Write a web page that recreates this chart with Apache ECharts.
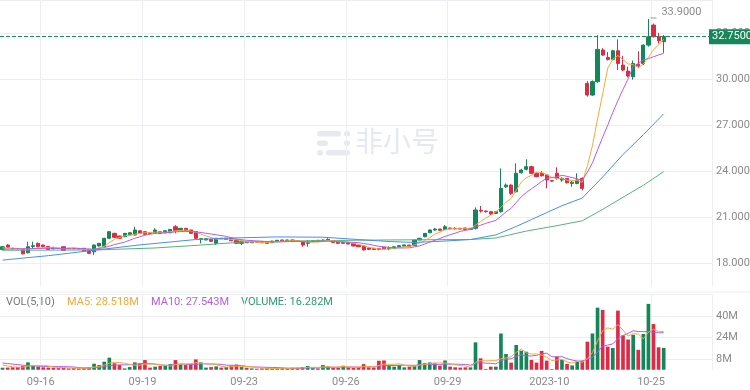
<!DOCTYPE html>
<html><head><meta charset="utf-8">
<script src="https://cdn.jsdelivr.net/npm/echarts@6/dist/echarts.min.js"></script>
<style>html,body{margin:0;padding:0;background:#fff;}#c{width:750px;height:390px;}</style>
</head><body><div id="c"></div>
<script>
// ---- data ----
const tickLabels = ['09-16','09-19','09-23','09-26','09-29','2023-10','10-25'];
const tickIndex = [8,28,48,68,88,108,128];
const priceTicks = [18,21,24,27,30,33];
const volTicks = [8,24,40];
const slotCount = 140;

const open = [18.9,19.19,18.98,18.97,18.9,18.69,19.1,19.3,19.19,19.1,
19.04,18.98,19.08,18.98,18.97,18.96,18.98,18.91,18.75,19.13,
19.08,19.63,19.95,19.78,19.73,19.84,19.84,20.12,20.06,19.99,
19.95,20.06,19.99,19.99,20.38,20.12,20.28,20.17,20.06,19.56,
19.52,19.56,19.3,19.63,19.55,19.63,19.52,19.3,19.41,19.34,
19.41,19.41,19.41,19.34,19.45,19.52,19.47,19.52,19.47,19.41,
19.3,19.41,19.5,19.45,19.5,19.47,19.38,19.3,19.36,19.3,
19.19,19.13,19.0,18.98,18.95,19.05,18.95,18.98,19.08,19.12,
19.19,19.15,19.52,19.73,19.99,20.17,20.23,20.2,20.3,20.28,
20.28,20.3,20.2,20.28,21.45,21.4,21.36,21.25,21.36,22.98,
23.09,22.66,23.89,24.12,24.29,23.86,23.86,23.75,23.38,23.86,
23.42,23.53,23.2,23.2,23.53,29.71,28.95,29.82,31.88,31.4,
31.27,31.83,30.9,30.51,30.14,30.95,31.01,32.2,33.5,32.74,
32.42];
const close = [19.08,19.05,18.95,18.95,18.62,19.08,19.15,19.08,19.1,18.9,
18.95,18.97,18.83,18.96,18.95,18.94,18.8,18.65,19.19,19.3,
19.63,20.06,19.69,19.63,19.95,19.99,20.17,19.95,19.89,19.95,
20.17,19.95,20.12,20.21,20.12,20.28,20.12,19.95,19.63,19.6,
19.6,19.43,19.63,19.6,19.63,19.47,19.3,19.41,19.34,19.41,
19.4,19.34,19.3,19.45,19.5,19.47,19.52,19.45,19.43,19.19,
19.36,19.47,19.45,19.52,19.56,19.36,19.3,19.36,19.26,19.13,
19.08,18.87,18.91,18.9,18.9,18.95,19.0,19.08,19.15,19.2,
19.1,19.52,19.63,19.95,20.17,20.23,20.15,20.38,20.25,20.25,
20.23,20.2,20.28,21.47,21.4,21.36,21.21,21.36,22.88,23.09,
22.55,23.86,24.07,24.29,23.86,23.64,23.7,23.42,23.35,23.53,
23.53,23.24,23.28,23.42,22.88,28.95,29.82,31.92,31.55,31.27,
31.83,31.01,30.58,30.19,31.01,30.85,32.2,32.74,32.74,32.48,
32.75];
const low = [18.85,19.0,18.92,18.9,18.58,18.65,18.98,19.05,19.05,18.86,
18.92,18.94,18.8,18.93,18.92,18.9,18.76,18.6,18.54,19.1,
19.05,19.6,19.66,19.6,19.7,19.82,19.82,19.92,19.86,19.92,
19.93,19.92,19.97,19.97,19.95,20.1,20.1,19.92,19.6,19.3,
19.5,19.41,19.19,19.58,19.53,19.45,19.28,19.19,19.32,19.32,
19.38,19.32,19.28,19.32,19.43,19.45,19.45,19.43,19.41,19.08,
19.08,19.39,19.43,19.43,19.48,19.34,19.28,19.28,19.24,19.11,
19.06,18.85,18.88,18.87,18.85,18.92,18.85,18.96,19.06,19.1,
19.08,19.13,19.5,19.7,19.97,20.1,20.13,20.18,20.23,20.2,
20.21,20.18,20.18,20.2,21.3,21.3,21.15,21.2,21.3,22.9,
22.45,22.6,23.85,24.05,23.8,23.6,23.65,22.88,23.3,23.45,
23.3,23.2,22.98,23.15,22.75,28.85,28.9,29.75,31.5,31.2,
31.2,30.58,30.5,30.1,29.95,30.7,30.9,32.1,32.7,32.3,
31.7];
const high = [19.12,19.25,19.02,19.0,18.95,19.41,19.41,19.35,19.22,19.12,
19.06,19.0,19.1,19.0,19.0,18.99,19.0,18.94,19.22,19.33,
19.66,20.1,19.99,19.8,19.97,20.02,20.38,20.14,20.08,20.01,
20.28,20.08,20.14,20.23,20.49,20.3,20.3,20.19,20.08,19.63,
19.62,19.58,19.65,19.65,19.65,19.65,19.54,19.43,19.43,19.43,
19.43,19.43,19.43,19.47,19.52,19.54,19.54,19.54,19.49,19.43,
19.52,19.49,19.52,19.54,19.63,19.49,19.4,19.38,19.38,19.32,
19.21,19.15,19.02,19.0,19.0,19.07,19.1,19.1,19.17,19.22,
19.21,19.54,19.65,19.97,20.19,20.3,20.25,20.49,20.32,20.35,
20.3,20.32,20.3,21.64,21.73,21.45,21.4,21.4,24.18,23.2,
23.15,24.51,24.15,24.77,24.35,23.9,24.0,23.8,23.4,24.25,
23.6,23.55,23.35,23.86,23.6,29.85,29.9,32.85,32.0,31.75,
31.9,32.57,31.5,30.8,31.2,31.8,32.25,33.9,33.6,33.0,
32.85];
// volume in millions
const volume = [1.5,1.6,1.8,2.0,2.8,5.5,3.0,2.3,1.8,1.6,
1.5,1.2,1.5,1.0,1.2,1.0,1.2,1.8,4.5,3.5,
6.0,9.0,4.8,3.5,1.0,2.0,5.5,4.8,7.2,1.6,
2.3,2.8,2.8,4.2,7.2,4.0,3.5,4.0,7.7,5.5,
1.6,2.0,2.5,1.6,2.0,3.0,3.8,2.0,1.5,1.0,
0.8,1.0,1.2,1.0,1.0,1.2,1.0,1.5,1.5,2.0,
2.8,1.2,1.0,3.5,2.5,1.5,1.5,3.0,1.8,1.5,
1.8,4.2,1.8,1.6,6.7,6.9,2.8,2.3,3.5,1.8,
2.3,2.8,7.2,4.8,5.5,4.8,3.0,6.9,2.3,1.8,
1.6,1.8,1.8,20.4,8.5,0.6,2.3,2.3,27.0,11.7,
5.3,18.4,14.2,13.4,7.3,5.3,14.0,6.8,0.5,9.9,
7.3,4.3,3.2,6.1,6.8,20.9,27.0,46.2,44.5,17.2,
16.2,44.0,25.5,22.5,26.0,14.85,26.6,49.0,34.0,16.7,
16.282];
const volMa5 = [3.5,2.8,2.2,1.9,1.94,2.74,3.02,3.12,3.08,2.84,
2.04,1.68,1.52,1.36,1.28,1.18,1.18,1.24,1.94,2.4,
3.4,4.96,5.56,5.36,4.86,4.06,3.36,3.36,4.1,4.22,
4.28,3.74,3.34,2.74,3.86,4.2,4.34,4.58,5.28,4.94,
4.46,4.16,3.86,2.64,1.94,2.22,2.58,2.48,2.46,2.26,
1.82,1.26,1.1,1.0,1.0,1.08,1.08,1.14,1.24,1.44,
1.76,1.8,1.7,2.1,2.2,1.94,2.0,2.4,2.06,1.86,
1.92,2.46,2.22,2.18,3.22,4.24,3.96,4.06,4.44,3.46,
2.54,2.54,3.52,3.78,4.52,5.02,5.06,5.0,4.5,3.76,
3.12,2.88,1.86,5.48,6.82,6.62,6.72,6.82,8.14,8.78,
9.72,12.94,15.32,12.6,11.72,11.72,10.84,9.36,6.78,7.3,
7.7,5.76,5.04,6.16,5.54,8.26,12.8,21.4,29.08,31.16,
30.22,33.62,29.48,25.08,26.84,26.57,23.09,27.79,30.09,28.23,
28.518];
const volMa10 = [5.0,4.6,4.2,3.8,3.4,3.1,2.9,2.7,2.5,2.39,
2.39,2.35,2.32,2.22,2.06,1.61,1.43,1.38,1.65,1.84,
2.29,3.07,3.4,3.65,3.63,3.73,4.16,4.46,4.73,4.54,
4.17,3.55,3.35,3.42,4.04,4.24,4.04,3.96,4.01,4.4,
4.33,4.25,4.22,3.96,3.44,3.34,3.37,3.17,2.55,2.1,
2.02,1.92,1.79,1.73,1.63,1.45,1.17,1.12,1.12,1.22,
1.42,1.44,1.42,1.67,1.82,1.85,1.9,2.05,2.08,2.03,
1.93,2.23,2.31,2.12,2.54,3.08,3.21,3.14,3.31,3.34,
3.39,3.25,3.79,4.11,3.99,3.78,3.8,4.26,4.14,4.14,
4.07,3.97,3.43,4.99,5.29,4.87,4.8,4.34,6.81,7.8,
8.17,9.83,11.07,10.37,10.25,10.72,11.89,12.34,9.69,9.51,
9.71,8.3,7.2,6.47,6.42,7.98,9.28,13.22,17.62,18.35,
19.24,23.21,25.44,27.08,29.0,28.4,28.36,28.64,27.59,27.54,
27.543];
// price moving averages: [candle index, value]
const ma5Pts = [[0,19.0],[2,18.98],[4,18.93],[6,18.95],[8,19.01],[10,19.04],[12,18.95],[14,18.93],[16,18.9],[18,18.91],[20,19.11],[22,19.57],[24,19.79],[26,19.89],[28,19.99],[30,20.03],[32,20.02],[34,20.11],[36,20.17],[38,20.02],[40,19.78],[42,19.58],[44,19.58],[46,19.53],[48,19.43],[50,19.37],[52,19.36],[54,19.4],[56,19.45],[58,19.47],[60,19.39],[62,19.38],[64,19.47],[66,19.44],[68,19.37],[70,19.23],[71,19.14],[72,19.05],[73,18.98],[74,18.93],[75,18.91],[76,18.93],[77,18.97],[78,19.02],[79,19.08],[80,19.11],[81,19.21],[82,19.32],[83,19.48],[84,19.67],[85,19.9],[86,20.03],[87,20.18],[88,20.24],[89,20.25],[90,20.25],[91,20.26],[92,20.24],[93,20.49],[94,20.72],[95,20.94],[96,21.14],[97,21.36],[98,21.64],[99,21.98],[100,22.22],[101,22.75],[102,23.29],[103,23.57],[104,23.73],[105,23.94],[106,23.91],[107,23.78],[108,23.59],[109,23.53],[110,23.51],[111,23.41],[112,23.39],[113,23.4],[114,23.27],[115,24.35],[116,25.67],[117,27.4],[118,29.02],[119,30.7],[120,31.28],[121,31.52],[122,31.25],[123,30.98],[124,30.92],[125,30.73],[126,30.97],[127,31.4],[128,31.91],[129,32.2],[130,32.58]];
const ma10Pts = [[0,18.92],[4,18.95],[8,18.98],[10,18.98],[12,18.96],[14,19.0],[16,18.95],[18,18.91],[20,19.02],[22,19.22],[24,19.38],[26,19.63],[28,19.83],[30,19.95],[32,19.98],[34,20.05],[36,20.08],[38,20.05],[40,19.96],[42,19.86],[44,19.75],[46,19.58],[48,19.5],[50,19.46],[52,19.42],[54,19.39],[56,19.41],[58,19.43],[60,19.4],[62,19.43],[64,19.44],[66,19.41],[68,19.38],[70,19.35],[71,19.29],[72,19.24],[73,19.17],[74,19.11],[75,19.07],[76,19.04],[77,19.01],[78,19.0],[79,19.0],[80,19.01],[81,19.07],[82,19.14],[83,19.25],[84,19.38],[85,19.5],[86,19.62],[87,19.75],[88,19.86],[89,19.96],[90,20.08],[91,20.14],[92,20.21],[93,20.36],[94,20.48],[95,20.6],[96,20.7],[97,20.8],[98,21.06],[99,21.35],[100,21.58],[101,21.95],[102,22.33],[103,22.61],[104,22.85],[105,23.08],[106,23.33],[107,23.54],[108,23.58],[109,23.63],[110,23.73],[111,23.66],[112,23.58],[113,23.5],[114,23.4],[115,23.93],[116,24.54],[117,25.39],[118,26.21],[119,26.99],[120,27.82],[121,28.59],[122,29.32],[123,30.0],[124,30.81],[125,31.0],[126,31.24],[127,31.32],[128,31.44],[129,31.56],[130,31.66]];
const ma30Pts = [[0,18.21],[9,18.5],[18,18.85],[27,19.2],[38,19.55],[45,19.65],[54,19.72],[63,19.7],[70,19.55],[76,19.42],[81,19.36],[87,19.45],[92,19.55],[97,19.85],[101,20.4],[104,20.85],[107,21.3],[110,21.75],[114,22.25],[118,23.62],[122,25.08],[126,26.37],[130,27.73]];
const ma60Pts = [[0,18.85],[18,18.87],[30,19.0],[39,19.19],[47,19.38],[60,19.47],[75,19.52],[92,19.55],[97,19.65],[103,20.1],[109,20.45],[114,20.77],[118,21.51],[122,22.3],[126,23.08],[130,23.97]];
const legendTexts = {vol:'VOL(5,10)', ma5:'MA5: 28.518M', ma10:'MA10: 27.543M', volume:'VOLUME: 16.282M'};
const watermark = '非小号';

// ---- styling ----
const UP = '#13875a', DOWN = '#dd2a47';
const C5 = '#f5a83c', C10 = '#b35de6', C30 = '#4a8fe6', C60 = '#56b27d';
const GRID = '#eceef2';
const FONT = 'Roboto, "Noto Sans", sans-serif';

const categories = [];
for (let i = 0; i < slotCount; i++) {
  const k = tickIndex.indexOf(i);
  categories.push(k >= 0 ? tickLabels[k] : 's' + i);
}
const candleData = open.map((o, i) => [o, close[i], low[i], high[i]]);
const volData = volume.map((v, i) => ({value: v, itemStyle: {color: close[i] >= open[i] ? UP : DOWN}}));
const lastPrice = close[close.length - 1];
const isTick = (i) => tickIndex.indexOf(i) >= 0;

const chart = echarts.init(document.getElementById('c'), null, {renderer: 'canvas'});
const maLine = (name, data, color, xi, yi, z) => ({
  name, type: 'line', data, xAxisIndex: xi, yAxisIndex: yi, showSymbol: false, symbol: 'none',
  connectNulls: true, lineStyle: {color, width: 1}, itemStyle: {color}, silent: true, z
});

chart.setOption({
  animation: false,
  textStyle: {fontFamily: FONT},
  axisPointer: {show: false},
  grid: [
    {show: false, outerBoundsMode: 'none', containLabel: false, left: 0, right: 38, top: 0, height: 286.4},
    {show: false, outerBoundsMode: 'none', containLabel: false, left: 0, right: 38, top: 294.5, height: 75.25}
  ],
  xAxis: [
    {type: 'category', gridIndex: 0, position: 'bottom', data: categories, boundaryGap: true,
     axisLine: {show: false}, axisTick: {show: false}, axisLabel: {show: false},
     splitLine: {show: true, interval: isTick, lineStyle: {color: GRID}}},
    {type: 'category', gridIndex: 1, position: 'bottom', data: categories, boundaryGap: true,
     axisLine: {show: false}, axisTick: {show: false},
     axisLabel: {show: true, interval: isTick, color: '#8a8a8a', fontSize: 11, margin: 7, padding: [0, 5, 0, 0], fontFamily: FONT},
     splitLine: {show: true, interval: isTick, lineStyle: {color: GRID}}}
  ],
  yAxis: [
    {type: 'value', gridIndex: 0, position: 'right', min: 16.5, max: 35.134, interval: 1.5,
     axisLine: {show: false}, axisTick: {show: false}, splitArea: {show: false},
     axisLabel: {color: '#8a8a8a', fontSize: 11, margin: 4, fontFamily: FONT,
       formatter: (v) => priceTicks.some((t) => Math.abs(t - v) < 1e-6) ? v.toFixed(4) : ''},
     splitLine: {show: true, lineStyle: {color: ['rgba(0,0,0,0)', GRID]}}},
    {type: 'value', gridIndex: 1, position: 'right', min: 0, max: 56, interval: 8,
     axisLine: {show: false}, axisTick: {show: false}, splitArea: {show: false},
     axisLabel: {color: '#8a8a8a', fontSize: 11, margin: 4, fontFamily: FONT,
       formatter: (v) => volTicks.indexOf(v) >= 0 ? v + 'M' : ''},
     splitLine: {show: true, lineStyle: {color: ['rgba(0,0,0,0)', GRID]}}}
  ],
  graphic: [
    {type: 'line', shape: {x1: 0, y1: 292, x2: 750, y2: 292}, style: {stroke: '#eceef1', lineWidth: 1}, silent: true},
    {type: 'group', left: 317, top: 131, silent: true, z: 0, children: [
      {type: 'rect', shape: {x: 0, y: 0, width: 24, height: 5.5, r: 2.75}, style: {fill: '#e6e9ef'}},
      {type: 'rect', shape: {x: 27, y: 0, width: 6, height: 5.5, r: 2.75}, style: {fill: '#e6e9ef'}},
      {type: 'rect', shape: {x: 0, y: 9.5, width: 11, height: 5.5, r: 2.75}, style: {fill: '#e6e9ef'}},
      {type: 'rect', shape: {x: 27, y: 9.5, width: 6, height: 5.5, r: 2.75}, style: {fill: '#e6e9ef'}},
      {type: 'rect', shape: {x: 0, y: 19, width: 6, height: 5.5, r: 2.75}, style: {fill: '#e6e9ef'}},
      {type: 'rect', shape: {x: 9, y: 19, width: 24, height: 5.5, r: 2.75}, style: {fill: '#e6e9ef'}}
    ]},
    {type: 'text', left: 355, top: 127, silent: true, z: 0,
     style: {text: watermark, fill: '#e6e9ef', fontSize: 28, fontFamily: '"Noto Sans CJK SC"'}},
    {type: 'text', left: 6, top: 297, silent: true, style: {text: legendTexts.vol, fill: '#777', fontSize: 11, fontFamily: FONT}},
    {type: 'text', left: 67, top: 297, silent: true, style: {text: legendTexts.ma5, fill: C5, fontSize: 11, fontFamily: FONT}},
    {type: 'text', left: 151, top: 297, silent: true, style: {text: legendTexts.ma10, fill: C10, fontSize: 11, fontFamily: FONT}},
    {type: 'text', left: 241, top: 297, silent: true, style: {text: legendTexts.volume, fill: '#2e9a72', fontSize: 11, fontFamily: FONT}}
  ],
  series: [
    maLine('MA60', ma60Pts, C60, 0, 0, 3),
    {name: 'K', type: 'candlestick', xAxisIndex: 0, yAxisIndex: 0, data: candleData, barWidth: '72%',
     itemStyle: {color: UP, color0: DOWN, borderColor: UP, borderColor0: DOWN, borderWidth: 1},
     z: 2,
     markLine: {silent: true, symbol: ['none', 'none'], animation: false,
       data: [{yAxis: lastPrice}],
       lineStyle: {type: 'dashed', color: '#1a8a5e', width: 1},
       label: {show: true, position: 'end', distance: -3, formatter: lastPrice.toFixed(4),
         backgroundColor: '#15875b', color: '#fff', fontSize: 11, padding: [2, 3, 2, 3], fontFamily: FONT}},
     markPoint: {silent: true, animation: false,
       data: [{type: 'max', valueDim: 'highest'}],
       symbol: 'rect', symbolSize: [6, 1], symbolOffset: [5, -1], itemStyle: {color: '#999'},
       label: {show: true, position: 'right', distance: 5, offset: [0, -6], color: '#8a8a8a', fontSize: 11, fontFamily: FONT,
         formatter: (p) => Number(p.value).toFixed(4)}}},
    maLine('MA5', ma5Pts, C5, 0, 0, 3),
    maLine('MA10', ma10Pts, C10, 0, 0, 3),
    maLine('MA30', ma30Pts, C30, 0, 0, 3),
    {name: 'VOL', type: 'bar', xAxisIndex: 1, yAxisIndex: 1, data: volData, barWidth: '72%', silent: true, z: 2},
    maLine('VMA10', volMa10, C10, 1, 1, 3),
    maLine('VMA5', volMa5, C5, 1, 1, 3)
  ]
});
</script>
</body></html>
